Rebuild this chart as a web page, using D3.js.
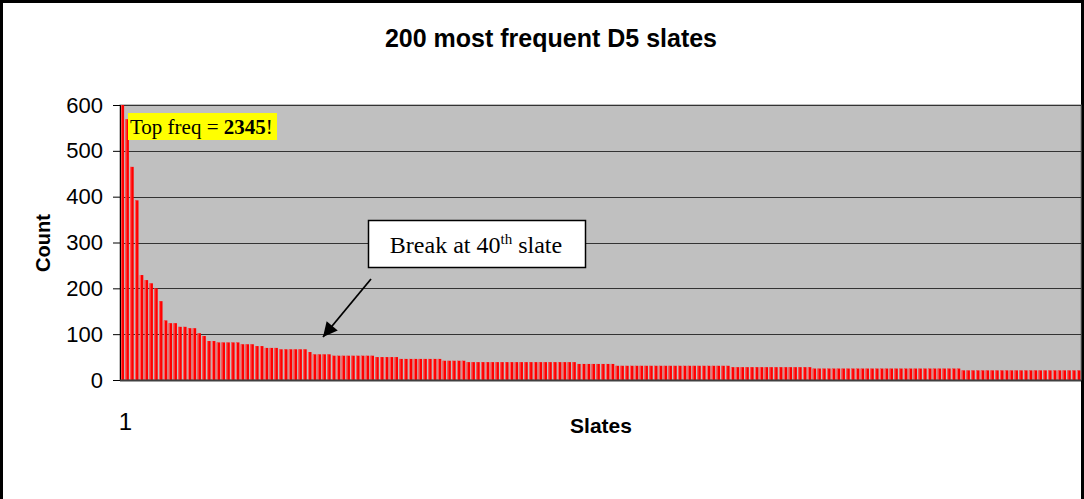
<!DOCTYPE html>
<html>
<head>
<meta charset="utf-8">
<script src="https://cdn.jsdelivr.net/npm/d3@7/dist/d3.min.js"></script>
<style>
  html, body { margin: 0; padding: 0; background: #fff; }
  svg { display: block; }
</style>
</head>
<body>
<div id="chart"></div>
<script>
// ---- Data ----
const title = "200 most frequent D5 slates";
const xTitle = "Slates";
const yTitle = "Count";
const yTicks = [0, 100, 200, 300, 400, 500, 600];
const xTickLabels = [1];
const slates = d3.range(1, 201);
const counts = [
  2345, 569, 465, 392, 229, 218, 211, 200, 172, 130,
  124, 124, 116, 116, 113, 113, 102, 96, 85, 85,
  82, 82, 82, 82, 82, 78, 78, 78, 74, 74,
  70, 70, 70, 67, 67, 67, 67, 67, 67, 61,
  56, 56, 56, 56, 53, 53, 53, 53, 53, 53,
  53, 53, 53, 50, 50, 50, 50, 50, 46, 46,
  46, 46, 46, 46, 46, 46, 46, 42, 42, 42,
  42, 42, 39, 39, 39, 39, 39, 39, 39, 39,
  39, 39, 39, 39, 39, 39, 39, 39, 39, 39,
  39, 39, 39, 39, 39, 35, 35, 35, 35, 35,
  35, 35, 35, 31, 31, 31, 31, 31, 31, 31,
  31, 31, 31, 31, 31, 31, 31, 31, 31, 31,
  31, 31, 31, 31, 31, 31, 31, 28, 28, 28,
  28, 28, 28, 28, 28, 28, 28, 28, 28, 28,
  28, 28, 28, 28, 25, 25, 25, 25, 25, 25,
  25, 25, 25, 25, 25, 25, 25, 25, 25, 25,
  25, 25, 25, 25, 25, 25, 25, 25, 25, 25,
  25, 25, 25, 25, 25, 21, 21, 21, 21, 21,
  21, 21, 21, 21, 21, 21, 21, 21, 21, 21,
  21, 21, 21, 21, 21, 21, 21, 21, 21, 21
];
const topNoteLabel = "Top freq = ";
const topNoteValue = "2345";
const breakSlate = 40;

// ---- Layout ----
const W = 1084, H = 499;
const plot = { left: 120, right: 1081, top: 105, bottom: 380 };

const svg = d3.select("#chart").append("svg")
  .attr("width", W).attr("height", H);

svg.append("rect").attr("width", W).attr("height", H).attr("fill", "#fff");

// outer border
svg.append("rect")
  .attr("x", 1.5).attr("y", 1.5).attr("width", W - 3).attr("height", H + 20)
  .attr("fill", "none").attr("stroke", "#000").attr("stroke-width", 3);

const x = d3.scaleBand().domain(slates)
  .range([plot.left, plot.right]).paddingInner(0.27).paddingOuter(0.12);
const y = d3.scaleLinear().domain([0, 600]).range([plot.bottom, plot.top]);

// plot background
svg.append("rect")
  .attr("x", plot.left).attr("y", plot.top)
  .attr("width", plot.right - plot.left).attr("height", plot.bottom - plot.top)
  .attr("fill", "#C0C0C0").attr("stroke", "#808080").attr("stroke-width", 1);

// gridlines
svg.append("g").selectAll("line").data(yTicks.filter(d => d > 0)).join("line")
  .attr("x1", plot.left).attr("x2", plot.right)
  .attr("y1", d => Math.round(y(d)) + 0.5).attr("y2", d => Math.round(y(d)) + 0.5)
  .attr("stroke", "#333").attr("stroke-width", 1);

// clip
svg.append("clipPath").attr("id", "clip").append("rect")
  .attr("x", plot.left).attr("y", plot.top)
  .attr("width", plot.right - plot.left).attr("height", plot.bottom - plot.top);

// bars
const bars = svg.append("g").attr("clip-path", "url(#clip)");
bars.selectAll("rect.bar").data(slates).join("rect")
  .attr("class", "bar")
  .attr("x", d => x(d))
  .attr("y", (d, i) => y(counts[i]))
  .attr("width", x.bandwidth())
  .attr("height", (d, i) => y(0) - y(counts[i]))
  .attr("fill", "#FF0000");
bars.selectAll("line.hl").data(slates).join("line")
  .attr("class", "hl")
  .attr("x1", d => x(d) + 0.6).attr("x2", d => x(d) + 0.6)
  .attr("y1", (d, i) => y(counts[i])).attr("y2", y(0))
  .attr("stroke", "#FF7070").attr("stroke-width", 0.9);

// y axis
const yAxis = d3.axisLeft(y).tickValues(yTicks).tickSize(7).tickPadding(10);
const gy = svg.append("g").attr("transform", `translate(${plot.left},0)`).call(yAxis);
gy.select(".domain").attr("stroke", "#000");
gy.selectAll(".tick line").attr("stroke", "#000");
gy.selectAll("text").attr("font-family", "Arial, 'Liberation Sans', sans-serif")
  .attr("font-size", 22).attr("fill", "#000");

// x axis
const xAxis = d3.axisBottom(x).tickValues(xTickLabels).tickSize(0).tickPadding(33);
const gx = svg.append("g").attr("transform", `translate(3,${plot.bottom})`).call(xAxis);
gx.select(".domain").remove();
gx.selectAll("text").attr("font-family", "Arial, 'Liberation Sans', sans-serif")
  .attr("font-size", 24).attr("fill", "#000");
svg.append("line")
  .attr("x1", plot.left).attr("x2", plot.right)
  .attr("y1", plot.bottom + 0.5).attr("y2", plot.bottom + 0.5)
  .attr("stroke", "#404040").attr("stroke-width", 2);

// titles
svg.append("text").attr("x", 551).attr("y", 47).attr("text-anchor", "middle")
  .attr("font-family", "Arial, 'Liberation Sans', sans-serif").attr("font-weight", "bold")
  .attr("font-size", 25).text(title);
svg.append("text").attr("x", 601).attr("y", 433).attr("text-anchor", "middle")
  .attr("font-family", "Arial, 'Liberation Sans', sans-serif").attr("font-weight", "bold")
  .attr("font-size", 21).text(xTitle);
svg.append("text").attr("transform", "translate(50,243) rotate(-90)").attr("text-anchor", "middle")
  .attr("font-family", "Arial, 'Liberation Sans', sans-serif").attr("font-weight", "bold")
  .attr("font-size", 20).text(yTitle);

// top-frequency note
svg.append("rect").attr("x", 128).attr("y", 113).attr("width", 149).attr("height", 27)
  .attr("fill", "#FFFF00");
const tn = svg.append("text").attr("x", 130).attr("y", 134)
  .attr("font-family", "'Times New Roman', 'Liberation Serif', serif").attr("font-size", 21);
tn.append("tspan").text(topNoteLabel);
tn.append("tspan").attr("font-weight", "bold").text(topNoteValue);
tn.append("tspan").text("!");

// break callout
svg.append("rect").attr("x", 368.5).attr("y", 220.5).attr("width", 217).attr("height", 47)
  .attr("fill", "#fff").attr("stroke", "#000").attr("stroke-width", 1.5);
const bt = svg.append("text").attr("x", 476).attr("y", 253).attr("text-anchor", "middle")
  .attr("font-family", "'Times New Roman', 'Liberation Serif', serif").attr("font-size", 24);
bt.append("tspan").text("Break at " + breakSlate);
bt.append("tspan").attr("font-size", 15).attr("dy", -9).text("th");
bt.append("tspan").attr("dy", 9).text(" slate");

// arrow
const defs = svg.append("defs");
defs.append("marker").attr("id", "arr").attr("viewBox", "0 0 10 10")
  .attr("refX", 10).attr("refY", 5).attr("markerWidth", 11).attr("markerHeight", 8)
  .attr("markerUnits", "strokeWidth").attr("orient", "auto")
  .append("path").attr("d", "M0,0 L10,5 L0,10 Z").attr("fill", "#000");
svg.append("line").attr("x1", 371).attr("y1", 279).attr("x2", 323).attr("y2", 337)
  .attr("stroke", "#000").attr("stroke-width", 1.8).attr("marker-end", "url(#arr)");
</script>
</body>
</html>
